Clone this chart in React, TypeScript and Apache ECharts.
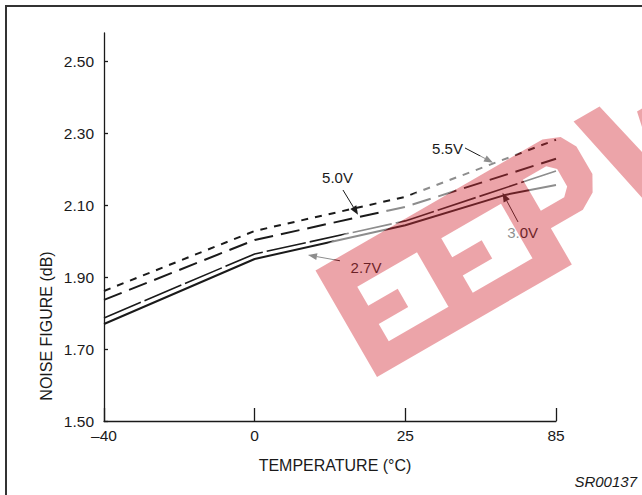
import React, { useEffect, useRef } from "react";
import * as echarts from "echarts";

// x axis: equally spaced temperature ticks (axis positions 0..3)
const tempLabels = ["–40", "0", "25", "85"];
const yTicks = [1.5, 1.7, 1.9, 2.1, 2.3, 2.5];

// series: axis position (0 = –40°C, 1 = 0°C, 2 = 25°C, 3 = 85°C) and noise figure (dB)
const pos55 = [0, 1, 2, 3];
const nf55 = [1.862, 2.029, 2.124, 2.283];
const pos50 = [0, 1, 2, 3];
const nf50 = [1.837, 2.004, 2.096, 2.23];
const pos30 = [0, 1, 2, 2.62, 3];
const nf30 = [1.787, 1.965, 2.057, 2.143, 2.196];
const pos27 = [0, 1, 2, 2.67, 3];
const nf27 = [1.77, 1.951, 2.045, 2.13, 2.157];

// annotations in data space: label position, arrow start, arrow tip
const annLabels = ["5.5V", "5.0V", "3.0V", "2.7V"];
const annText = [[2.28, 2.258], [1.55, 2.178], [2.778, 2.024], [1.739, 1.926]];
const annFrom = [[2.396, 2.26], [1.586, 2.143], [2.748, 2.054], [1.566, 1.946]];
const annTo = [[2.582, 2.219], [1.686, 2.074], [2.645, 2.135], [1.354, 1.962]];

const FONT = "'Liberation Sans', Arial, Helvetica, sans-serif";
const INK = "#1a1a1a";

function zip(p: number[], v: number[]) {
  return p.map((x, i) => [x, v[i]]);
}

// ---- watermark geometry (band coordinates: t along baseline, h up) ----
function eShape(t0: number): number[][] {
  return [
    [t0, 0], [t0 + 97, 0], [t0 + 97, 25], [t0 + 28, 25], [t0 + 28, 45], [t0 + 62, 45],
    [t0 + 62, 66], [t0 + 28, 66], [t0 + 28, 88], [t0 + 97, 88], [t0 + 97, 123], [t0, 123],
  ];
}
const wmE1 = eShape(0);
const wmE2 = eShape(97);
const wmPOuter = [
  [194, 0], [225, 0], [225, 42], [262, 42], [279, 52], [288, 68], [288, 100], [279, 116],
  [262, 123], [194, 123],
];
const wmPCounter = [[225, 62], [252, 62], [260, 70], [260, 90], [252, 98], [225, 98]];
const wmW = [
  [298, 123], [328, 123], [346, 45], [358, 100], [382, 100], [394, 45], [412, 123],
  [442, 123], [416, 0], [384, 0], [370, 58], [356, 0], [324, 0],
];
const wmHalo = [[-14, -14], [460, -14], [460, 140], [-14, 140]];

function area(p: number[][]) {
  let s = 0;
  for (let i = 0; i < p.length; i++) {
    const a = p[i];
    const b = p[(i + 1) % p.length];
    s += a[0] * b[1] - b[0] * a[1];
  }
  return s;
}
function sub(p: number[][], sign: number) {
  let pts = p.map(([t, h]) => [t, -h]);
  if (Math.sign(area(pts)) !== sign) pts = pts.slice().reverse();
  return "M" + pts.map((q) => q[0].toFixed(1) + " " + q[1].toFixed(1)).join(" L") + " Z";
}
const pinkD = [sub(wmE1, 1), sub(wmE2, 1), sub(wmPOuter, 1), sub(wmPCounter, -1), sub(wmW, 1)].join(" ");
const haloD = [
  sub(wmHalo, 1), sub(wmE1, -1), sub(wmE2, -1), sub(wmPOuter, -1), sub(wmPCounter, 1), sub(wmW, -1),
].join(" ");
echarts.graphic.registerShape("wmPink", echarts.graphic.extendPath(pinkD, {}));
echarts.graphic.registerShape("wmHalo", echarts.graphic.extendPath(haloD, {}));

export default function App() {
  const ref = useRef<HTMLDivElement>(null);
  useEffect(() => {
    const chart = echarts.init(ref.current!, null, { renderer: "svg" });
    const mkLine = (name: string, data: number[][], type: any, width: number) => ({
      name,
      type: "line",
      data,
      showSymbol: false,
      symbol: "none",
      smooth: false,
      lineStyle: { color: INK, width, type },
      z: 3,
    });
    chart.setOption({
      animation: false,
      backgroundColor: "#ffffff",
      textStyle: { fontFamily: FONT },
      grid: { left: 104, right: 86, top: 33, bottom: 74 },
      xAxis: {
        type: "value",
        min: 0,
        max: 3,
        interval: 1,
        splitLine: { show: false },
        axisLine: { lineStyle: { color: INK, width: 1.3 } },
        axisTick: { inside: true, length: 13, lineStyle: { color: INK, width: 1.3 } },
        axisLabel: {
          color: INK,
          fontSize: 15.5,
          fontFamily: FONT,
          margin: 6,
          formatter: (v: number) => tempLabels[Math.round(v)] ?? "",
        },
        name: "TEMPERATURE (°C)",
        nameLocation: "middle",
        nameGap: 36,
        nameTextStyle: { color: INK, fontSize: 16, fontFamily: FONT, padding: [0, 0, 0, 10] },
      },
      yAxis: {
        type: "value",
        min: 1.5,
        max: 2.58,
        splitLine: { show: false },
        axisLine: { show: true, lineStyle: { color: INK, width: 1.3 } },
        axisTick: {
          show: true,
          inside: true,
          length: 4,
          customValues: yTicks,
          lineStyle: { color: INK, width: 1.3 },
        },
        axisLabel: {
          color: INK,
          fontSize: 15.5,
          fontFamily: FONT,
          margin: 10,
          customValues: yTicks,
          formatter: (v: number) => v.toFixed(2),
        },
      },
      series: [
        mkLine("5.5V", zip(pos55, nf55), [7, 7], 2),
        mkLine("5.0V", zip(pos50, nf50), [19, 8], 2),
        mkLine("3.0V", zip(pos30, nf30), [40, 4], 1.6),
        mkLine("2.7V", zip(pos27, nf27), "solid", 2),
      ],
    });

    const px = (p: number[]) => chart.convertToPixel({ gridIndex: 0 }, p) as number[];
    const graphics: any[] = [];
    graphics.push({
      type: "rect",
      shape: { x: 6, y: 6, width: 700, height: 600 },
      style: { fill: "none", stroke: "#333", lineWidth: 2 },
      z: 10,
    });
    graphics.push({
      type: "text",
      x: 46,
      y: 326,
      rotation: Math.PI / 2,
      style: {
        text: "NOISE FIGURE (dB)",
        fill: INK,
        font: `16px ${FONT}`,
        align: "center",
        verticalAlign: "middle",
      },
      z: 10,
    });
    graphics.push({
      type: "text",
      x: 637,
      y: 481,
      style: {
        text: "SR00137",
        fill: INK,
        font: `italic 15px ${FONT}`,
        align: "right",
        verticalAlign: "middle",
      },
      z: 10,
    });
    annLabels.forEach((t, i) => {
      const c = px(annText[i]);
      graphics.push({
        type: "text",
        x: c[0],
        y: c[1],
        style: { text: t, fill: INK, font: `15px ${FONT}`, align: "center", verticalAlign: "middle" },
        z: 20,
      });
      const a = px(annFrom[i]);
      const b = px(annTo[i]);
      const dx = b[0] - a[0];
      const dy = b[1] - a[1];
      const len = Math.hypot(dx, dy);
      const ux = dx / len;
      const uy = dy / len;
      const L = 9;
      const W = 3.5;
      const base = [b[0] - ux * L, b[1] - uy * L];
      graphics.push({
        type: "line",
        shape: { x1: a[0], y1: a[1], x2: base[0], y2: base[1] },
        style: { stroke: INK, lineWidth: 1 },
        z: 20,
      });
      graphics.push({
        type: "polygon",
        shape: {
          points: [
            [b[0], b[1]],
            [base[0] - uy * W, base[1] + ux * W],
            [base[0] + uy * W, base[1] - ux * W],
          ],
        },
        style: { fill: INK },
        z: 20,
      });
    });
    // watermark: translucent white halo + pink letter band, over everything
    graphics.push({
      type: "wmHalo",
      x: 377,
      y: 377,
      rotation: Math.PI / 6,
      style: { fill: "#ffffff", opacity: 0.5 },
      z: 100,
    });
    graphics.push({
      type: "wmPink",
      x: 377,
      y: 377,
      rotation: Math.PI / 6,
      style: { fill: "rgb(210,45,55)", opacity: 0.43 },
      z: 101,
    });
    chart.setOption({ graphic: graphics });

    return () => chart.dispose();
  }, []);
  return (
    <div
      ref={ref}
      style={{ position: "fixed", left: 0, top: 0, width: 642, height: 495, background: "#fff" }}
    />
  );
}
